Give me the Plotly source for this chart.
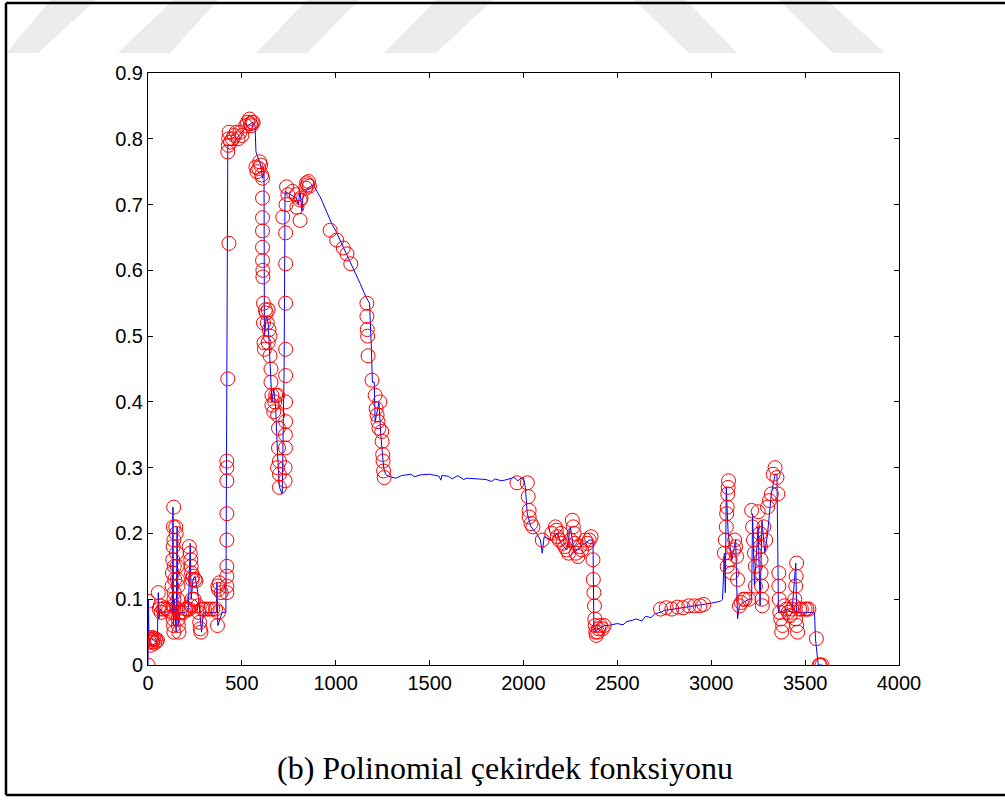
import plotly.graph_objects as go

# ---------------- data ----------------
line_x = [0, 2, 5, 20, 40, 50, 55, 58, 65, 80, 100, 120, 130, 133, 136, 140, 150, 155, 160, 170,
          200, 215, 225, 230, 240, 250, 260, 270, 285, 295, 340, 365, 367, 372, 395, 415, 418, 425,
          450, 470, 500, 530, 560, 570, 575, 600, 610, 618, 620, 630, 640, 650, 660, 670, 680, 690,
          700, 715, 725, 730, 760, 790, 800, 810, 820, 825, 850, 880, 900, 920, 950, 980, 1000,
          1050, 1100, 1130, 1160, 1180, 1190, 1195, 1205, 1210, 1230, 1240, 1255, 1265, 1280,
          1320, 1350, 1400, 1420, 1450, 1500, 1550, 1560, 1565, 1600, 1620, 1650, 1680, 1700,
          1750, 1800, 1830, 1850, 1880, 1900, 1950, 1970, 1990, 2000, 2010, 2020, 2040, 2070,
          2090, 2100, 2110, 2150, 2180, 2200, 2230, 2250, 2270, 2300, 2330, 2350, 2370, 2375,
          2400, 2430, 2450, 2480, 2500, 2530, 2550, 2580, 2600, 2630, 2650, 2680, 2700, 2730,
          2750, 2800, 2850, 2900, 2950, 3000, 3050, 3060, 3070, 3075, 3080, 3090, 3100, 3110,
          3130, 3140, 3150, 3170, 3200, 3215, 3220, 3230, 3250, 3260, 3270, 3285, 3300, 3320,
          3340, 3350, 3358, 3370, 3400, 3430, 3450, 3455, 3500, 3550, 3555, 3570, 3590]
line_y = [0.0, 0.10, 0.04, 0.04, 0.035, 0.04, 0.11, 0.07, 0.085, 0.08, 0.08, 0.085, 0.08, 0.24,
          0.06, 0.10, 0.05, 0.21, 0.06, 0.08, 0.08, 0.085, 0.185, 0.10, 0.13, 0.135, 0.12, 0.10,
          0.05, 0.08, 0.08, 0.08, 0.126, 0.06, 0.08, 0.08, 0.30, 0.79, 0.79, 0.80, 0.81, 0.82,
          0.825, 0.82, 0.78, 0.76, 0.74, 0.75, 0.50, 0.53, 0.52, 0.45, 0.40, 0.42, 0.39, 0.32,
          0.27, 0.26, 0.45, 0.72, 0.715, 0.71, 0.70, 0.72, 0.69, 0.71, 0.725, 0.73, 0.72, 0.71,
          0.69, 0.67, 0.66, 0.63, 0.60, 0.58, 0.56, 0.55, 0.48, 0.43, 0.43, 0.37, 0.40, 0.35,
          0.30, 0.29, 0.287,
          0.284, 0.288, 0.290, 0.286, 0.289, 0.290, 0.287, 0.281, 0.288, 0.287, 0.283, 0.288,
          0.282, 0.284, 0.283, 0.282, 0.279, 0.283, 0.280, 0.281, 0.285, 0.280, 0.285, 0.285,
          0.27, 0.23, 0.21, 0.20, 0.19, 0.17, 0.195, 0.19, 0.20, 0.185, 0.175, 0.21, 0.17, 0.18,
          0.185, 0.19, 0.19, 0.05,
          0.055, 0.06, 0.06, 0.062, 0.063, 0.061, 0.066, 0.068, 0.070, 0.067, 0.074, 0.072,
          0.078, 0.080, 0.083, 0.085, 0.087, 0.089, 0.091, 0.094, 0.097, 0.10, 0.17, 0.11, 0.27,
          0.20, 0.18, 0.16, 0.19, 0.07, 0.09, 0.095, 0.10, 0.10, 0.23, 0.12, 0.21, 0.09, 0.22,
          0.17, 0.20, 0.26, 0.29, 0.29, 0.08, 0.08, 0.085, 0.08, 0.155, 0.08, 0.08, 0.08, 0.04,
          0.0, 0.0]

circ_x = [0, 0, 8, 12, 15, 18, 22, 25, 30, 35, 40, 45, 50,
          55, 60, 65, 70, 80, 90, 100, 110,
          125, 128, 130, 132, 134, 135, 137, 138, 140, 142, 140, 138, 136, 134, 136, 138,
          148, 150, 152, 155, 157, 160, 158, 156, 160, 162, 165, 170, 180, 190, 200, 210,
          220, 225, 228, 230, 232, 235, 240, 250, 255, 245, 235, 230, 220,
          265, 270, 275, 278, 282, 290, 300, 315, 330, 345, 360, 375, 370, 372, 375, 380, 390,
          420, 420, 420, 420, 420, 420, 420, 420, 420, 425, 431, 425, 428, 430, 432, 440, 450,
          460, 470, 480, 490, 500, 520, 530, 540, 545, 550, 555, 560,
          575, 580, 590, 595, 600, 605,
          610, 610, 610, 610, 610, 610, 612, 612, 615, 615, 618, 620,
          625, 630, 635, 640, 645, 650, 640, 650, 655, 655, 660, 660, 670, 675, 680, 690, 690,
          695, 695, 700, 700, 700, 690,
          730, 730, 732, 732, 733, 733, 733, 733, 733, 733, 718, 733, 735, 738, 745,
          770, 790, 793, 810, 810, 815, 840, 845, 850, 855, 860,
          970, 1005, 1040, 1060, 1080,
          1166, 1166, 1168, 1170, 1172, 1193, 1210, 1215, 1220, 1225, 1230, 1235,
          1245, 1247, 1250, 1252, 1255, 1258,
          1965, 2020, 2025, 2030, 2030, 2040, 2050,
          2100, 2150, 2170, 2175, 2180, 2190, 2200, 2210, 2220, 2230, 2240, 2250, 2260, 2265,
          2270, 2275, 2280, 2290, 2300, 2310, 2330, 2340, 2350, 2360,
          2370, 2372, 2375, 2378, 2380, 2382, 2385, 2388, 2395, 2400, 2410, 2420, 2430,
          2730, 2760, 2790, 2820, 2850, 2880, 2910, 2940, 2960,
          3070, 3075, 3080, 3082, 3085, 3088, 3090, 3092, 3085, 3100, 3110, 3120, 3125, 3130,
          3135, 3140, 3150, 3160, 3170, 3180, 3200, 3215, 3220, 3225, 3230, 3235, 3235, 3250,
          3260, 3262, 3265, 3265, 3268, 3270, 3272, 3280, 3290, 3300, 3310, 3320, 3330, 3340,
          3350, 3355, 3360, 3360, 3362, 3365, 3370, 3375, 3380, 3390, 3400, 3410, 3420, 3430,
          3440, 3445, 3450, 3452, 3455, 3450, 3455, 3460, 3470, 3480, 3500, 3510, 3520,
          3560, 3575, 3580, 3590]
circ_y = [0.0, 0.097, 0.035, 0.04, 0.03, 0.038, 0.042, 0.035, 0.04, 0.033, 0.04, 0.036, 0.038,
          0.11, 0.085, 0.09, 0.08, 0.085, 0.087, 0.085, 0.083,
          0.08, 0.12, 0.14, 0.16, 0.18, 0.21, 0.24, 0.19, 0.15, 0.13, 0.11, 0.10, 0.09, 0.07,
          0.06, 0.05,
          0.21, 0.20, 0.17, 0.15, 0.13, 0.12, 0.10, 0.085, 0.07, 0.06, 0.05, 0.08, 0.08, 0.08,
          0.085, 0.085,
          0.18, 0.17, 0.16, 0.15, 0.14, 0.13, 0.135, 0.13, 0.128, 0.10, 0.10, 0.09, 0.085,
          0.09, 0.08, 0.065, 0.055, 0.05, 0.085, 0.085, 0.085, 0.085, 0.085, 0.085, 0.08, 0.06,
          0.12, 0.115, 0.125, 0.11,
          0.11, 0.12, 0.135, 0.15, 0.19, 0.23, 0.28, 0.30, 0.31, 0.435, 0.641, 0.78, 0.79, 0.80,
          0.81, 0.795, 0.80, 0.805, 0.81, 0.80, 0.81, 0.805, 0.82, 0.825, 0.83, 0.823, 0.82,
          0.825, 0.825,
          0.757, 0.75, 0.755, 0.765, 0.76, 0.745,
          0.74, 0.71, 0.68, 0.66, 0.635, 0.615, 0.60, 0.59, 0.55, 0.52, 0.49, 0.48,
          0.54, 0.535, 0.52, 0.54, 0.51, 0.50, 0.49, 0.47, 0.45, 0.43, 0.41, 0.395, 0.385, 0.40,
          0.41, 0.41, 0.38, 0.36, 0.33, 0.31, 0.29, 0.27, 0.30,
          0.28, 0.30, 0.33, 0.35, 0.37, 0.40, 0.44, 0.48, 0.55, 0.61, 0.681, 0.657, 0.70,
          0.727, 0.715,
          0.72, 0.715, 0.696, 0.707, 0.676, 0.71, 0.725, 0.733, 0.73, 0.735, 0.728,
          0.661, 0.646, 0.634, 0.625, 0.61,
          0.55, 0.53, 0.51, 0.50, 0.47, 0.433, 0.41, 0.39, 0.38, 0.37, 0.36, 0.40,
          0.355, 0.34, 0.32, 0.31, 0.295, 0.285,
          0.277, 0.277, 0.256, 0.235, 0.225, 0.215, 0.21,
          0.19, 0.20, 0.21, 0.205, 0.195, 0.19, 0.20, 0.185, 0.18, 0.175, 0.17, 0.19, 0.22,
          0.21, 0.20, 0.185, 0.17, 0.165, 0.18, 0.175, 0.19, 0.185, 0.19, 0.195,
          0.16, 0.13, 0.11, 0.09, 0.07, 0.06, 0.05, 0.045, 0.05, 0.055, 0.06, 0.055, 0.06,
          0.085, 0.087, 0.085, 0.088, 0.087, 0.09, 0.09, 0.09, 0.092,
          0.17, 0.19, 0.21, 0.23, 0.24, 0.26, 0.27, 0.28, 0.15, 0.16, 0.14, 0.175, 0.19, 0.18,
          0.165, 0.13, 0.09, 0.095, 0.10, 0.10, 0.10, 0.235, 0.21, 0.19, 0.17, 0.15, 0.12, 0.233,
          0.20, 0.18, 0.16, 0.14, 0.12, 0.10, 0.09, 0.21, 0.19, 0.24, 0.25, 0.26, 0.29, 0.30,
          0.285, 0.26, 0.14, 0.12, 0.10, 0.08, 0.07, 0.05, 0.06, 0.09, 0.085, 0.08, 0.075, 0.085,
          0.09, 0.10, 0.12, 0.135, 0.155, 0.07, 0.06, 0.05, 0.085, 0.085, 0.085, 0.085, 0.085,
          0.04, 0.0, 0.0, 0.0]

x_ticks = [0, 500, 1000, 1500, 2000, 2500, 3000, 3500, 4000]
y_ticks = [0, 0.1, 0.2, 0.3, 0.4, 0.5, 0.6, 0.7, 0.8, 0.9]
y_tick_labels = ["0", "0.1", "0.2", "0.3", "0.4", "0.5", "0.6", "0.7", "0.8", "0.9"]
caption = "(b) Polinomial çekirdek fonksiyonu"

# ---------------- layout geometry (pixels) ----------------
W, H = 1005, 804
L, R, T, B = 148, 899, 73, 665


def px(xp):
    return (xp - L) / (R - L)


def py(yp):
    return (B - yp) / (B - T)


fig = go.Figure()
fig.add_trace(go.Scatter(x=line_x, y=line_y, mode="lines",
                         line=dict(color="#0000ff", width=1), hoverinfo="skip"))
fig.add_trace(go.Scatter(x=circ_x, y=circ_y, mode="markers",
                         marker=dict(symbol="circle-open", size=14, color="#ff0000",
                                     line=dict(width=1, color="#ff0000"))))

shapes = []
# watermark stripes (light gray parallelograms at top)
stripes = [
    ((51, 96), (6, 38)), ((173, 218), (118, 170)), ((307, 359), (256, 307)),
    ((436, 493), (384, 436)), ((634, 686), (689, 737)), ((779, 827), (833, 885)),
]
for (t0, t1), (b0, b1) in stripes:
    path = (f"M {px(t0)} {py(0)} L {px(t1)} {py(0)} L {px(b1)} {py(53)} "
            f"L {px(b0)} {py(53)} Z")
    shapes.append(dict(type="path", xref="paper", yref="paper", path=path,
                       fillcolor="#ececec", line=dict(width=0), layer="below"))
# outer frame
for x0, y0, x1, y1 in [(6, 3, 1010, 3), (6, 3, 6, 795), (6, 795, 1010, 795)]:
    shapes.append(dict(type="line", xref="paper", yref="paper",
                       x0=px(x0), y0=py(y0), x1=px(x1), y1=py(y1),
                       line=dict(color="black", width=2.5)))

axis_common = dict(showline=True, linecolor="black", linewidth=1, mirror="allticks",
                   ticks="inside", ticklen=5, tickcolor="black", showgrid=False,
                   zeroline=False, tickfont=dict(family="Liberation Sans, Arial", size=20,
                                                 color="black"))
fig.update_layout(
    width=W, height=H, showlegend=False,
    margin=dict(l=L, r=W - R, t=T, b=H - B),
    paper_bgcolor="white", plot_bgcolor="white",
    xaxis=dict(range=[0, 4000], tickvals=x_ticks, ticktext=[str(v) for v in x_ticks],
               **axis_common),
    yaxis=dict(range=[0, 0.9], tickvals=y_ticks, ticktext=y_tick_labels, **axis_common),
    shapes=shapes,
    annotations=[dict(text=caption, xref="paper", yref="paper", x=px(505), y=py(768),
                      xanchor="center", yanchor="middle", showarrow=False,
                      font=dict(family="Liberation Serif, Times New Roman", size=32,
                                color="black"))],
)
fig.write_html("out.html")
